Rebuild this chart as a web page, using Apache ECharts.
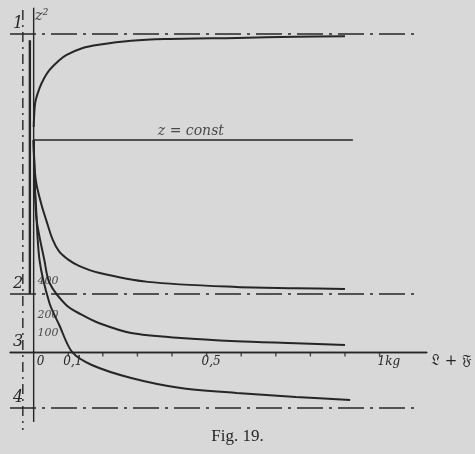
<!DOCTYPE html>
<html><head><meta charset="utf-8">
<script src="https://cdn.jsdelivr.net/npm/echarts@6/dist/echarts.min.js"></script>
<style>html,body{margin:0;padding:0;background:#d8d8d8;} #c{width:475px;height:454px;}</style>
</head><body><div id="c"></div>
<script>
// ---- data ----
const levelNames = ['1', '2', '3', '4'];
const levelValues = [5.58, 1.02, 0, -0.98];
const levelEnds = [1.114, 1.108, 1.136, 1.100];
const zConstValue = 3.72;
const zConstEnd = 0.923;
const curveTop = [[0.000,3.95],[0.003,4.30],[0.006,4.42],[0.017,4.63],[0.031,4.81],[0.046,4.95],[0.074,5.12],[0.094,5.21],[0.140,5.33],[0.188,5.39],[0.282,5.46],[0.379,5.49],[0.587,5.51],[0.758,5.53],[0.900,5.54]];
const curve400 = [[0.000,3.72],[0.003,3.20],[0.0085,2.93],[0.0228,2.58],[0.037,2.30],[0.055,1.97],[0.074,1.76],[0.100,1.62],[0.131,1.51],[0.188,1.39],[0.330,1.23],[0.587,1.14],[0.758,1.12],[0.900,1.105]];
const curve200 = [[0.000,3.72],[0.003,3.00],[0.0085,2.32],[0.031,1.61],[0.046,1.21],[0.094,0.825],[0.140,0.649],[0.188,0.509],[0.282,0.333],[0.425,0.246],[0.587,0.190],[0.758,0.155],[0.900,0.123]];
const curve100 = [[0.000,3.72],[0.003,2.90],[0.0057,2.67],[0.017,1.61],[0.0456,0.86],[0.074,0.474],[0.111,0.000],[0.168,-0.228],[0.282,-0.456],[0.425,-0.632],[0.587,-0.719],[0.758,-0.789],[0.915,-0.842]];
const asymptoteLine = [[-0.011,5.47],[-0.011,1.02]];
const yAxisLine = [[0,6.04],[0,-1.23]];
const leftDashLine = [[-0.0313,6.0],[-0.0313,-1.37]];
const curveLabels = ['400', '200', '100'];
const tickValues = [0.1,0.2,0.3,0.4,0.5,0.6,0.7,0.8,0.9,1.0];
const labelValues = [0, 0.1, 0.5, 1];
const labelTexts = ['0', '0,1', '0,5', '1kg'];
const xAxisName = '𝔏 + 𝔉';
const yAxisName = 'z²';
const zConstText = 'z = const';
const caption = 'Fig. 19.';

const ink = '#262626';

function lineSeries(data, width, type) {
  return { type: 'line', data: data, showSymbol: false, silent: true, smooth: false, clip: false,
    lineStyle: { color: ink, width: width, type: type || 'solid' }, z: 3 };
}
function curveSeries(data) {
  return { type: 'line', data: data, showSymbol: false, silent: true, smooth: 0.3, clip: false,
    lineStyle: { color: ink, width: 2 }, z: 4 };
}
function textPoint(name, x, y, size) {
  return { name: name, value: [x, y], label: { show: true, position: [0, 0], align: 'left', verticalAlign: 'middle',
    formatter: '{b}', color: ink, fontFamily: 'DejaVu Serif', fontStyle: 'italic', fontSize: size } };
}

const labelMap = {};
const labelStyleKeys = ['z', 'n', 'n', 'k'];
labelValues.forEach((v, i) => { labelMap[v.toFixed(2)] = '{' + labelStyleKeys[i] + '|' + labelTexts[i] + '}'; });
const tickFont = { color: ink, fontFamily: 'DejaVu Serif', fontStyle: 'italic', fontSize: 12 };

const levelMarks = levelNames.map((n, i) => {
  const dashed = i !== 2;
  return [
    { name: n, coord: [-0.0684, levelValues[i]],
      lineStyle: { type: dashed ? [26, 6, 3, 6] : 'solid', width: dashed ? 1.6 : 1.4, color: ink } },
    { coord: [levelEnds[i], levelValues[i]] }
  ];
});

const option = {
  backgroundColor: '#d8d8d8',
  animation: false,
  grid: { left: 10, right: 42, top: 5, bottom: 22 },
  xAxis: {
    type: 'value', min: -0.0684, max: 1.1368, offset: -80,
    axisLine: { show: true, onZero: false, lineStyle: { color: ink, width: 1.4 } },
    axisTick: { show: false },
    axisLabel: { show: true, customValues: labelValues, margin: 4, align: 'left',
      formatter: v => labelMap[v.toFixed(2)] || '',
      rich: {
        z: Object.assign({ padding: [0, 0, 0, 3] }, tickFont),
        n: Object.assign({ padding: [0, 0, 0, -5] }, tickFont),
        k: Object.assign({ padding: [0, 0, 0, -2] }, tickFont)
      } },
    splitLine: { show: false },
    name: xAxisName, nameLocation: 'end', nameGap: 4,
    nameTextStyle: { color: ink, fontSize: 15, fontFamily: 'DejaVu Serif', verticalAlign: 'top', padding: [2, 0, 0, 0] }
  },
  yAxis: {
    type: 'value', min: -1.404, max: 6.088,
    axisLine: { show: false }, axisTick: { show: false }, axisLabel: { show: false }, splitLine: { show: false }
  },
  series: [
    lineSeries(yAxisLine, 1.4),
    lineSeries(asymptoteLine, 2.4),
    lineSeries(leftDashLine, 1.4, [10, 5, 2, 5]),
    lineSeries([[0, zConstValue], [zConstEnd, zConstValue]], 1.6),
    curveSeries(curveTop),
    curveSeries(curve400),
    curveSeries(curve200),
    curveSeries(curve100),
    {
      type: 'line', data: [], silent: true, clip: false,
      markLine: {
        silent: true, symbol: ['none', 'none'], precision: 4,
        label: { show: true, position: 'insideStartTop', distance: [3, 2], formatter: '{b}',
          color: ink, fontFamily: 'DejaVu Serif', fontStyle: 'italic', fontSize: 16 },
        data: levelMarks
      }
    },
    {
      // axis tick marks, placed on the x scale
      type: 'scatter', silent: true, clip: false, z: 5,
      symbol: 'rect', symbolSize: [1.4, 4], symbolOffset: [0, 2.5],
      itemStyle: { color: ink },
      data: tickValues.map(v => [v, 0])
    },
    {
      type: 'scatter', symbolSize: 0, silent: true, clip: false, z: 6,
      data: [
        textPoint(yAxisName, 0.003, 5.895, 15),
        textPoint(zConstText, 0.359, 3.877, 14),
        textPoint(curveLabels[0], 0.011, 1.246, 11),
        textPoint(curveLabels[1], 0.011, 0.649, 11),
        textPoint(curveLabels[2], 0.011, 0.333, 11)
      ]
    }
  ],
  graphic: [{
    type: 'text', left: 'center', top: 428,
    style: { text: caption, fill: ink, font: '17px "Liberation Serif"' }
  }]
};

const chart = echarts.init(document.getElementById('c'), null, { renderer: 'canvas' });
chart.setOption(option);
</script>
</body></html>
